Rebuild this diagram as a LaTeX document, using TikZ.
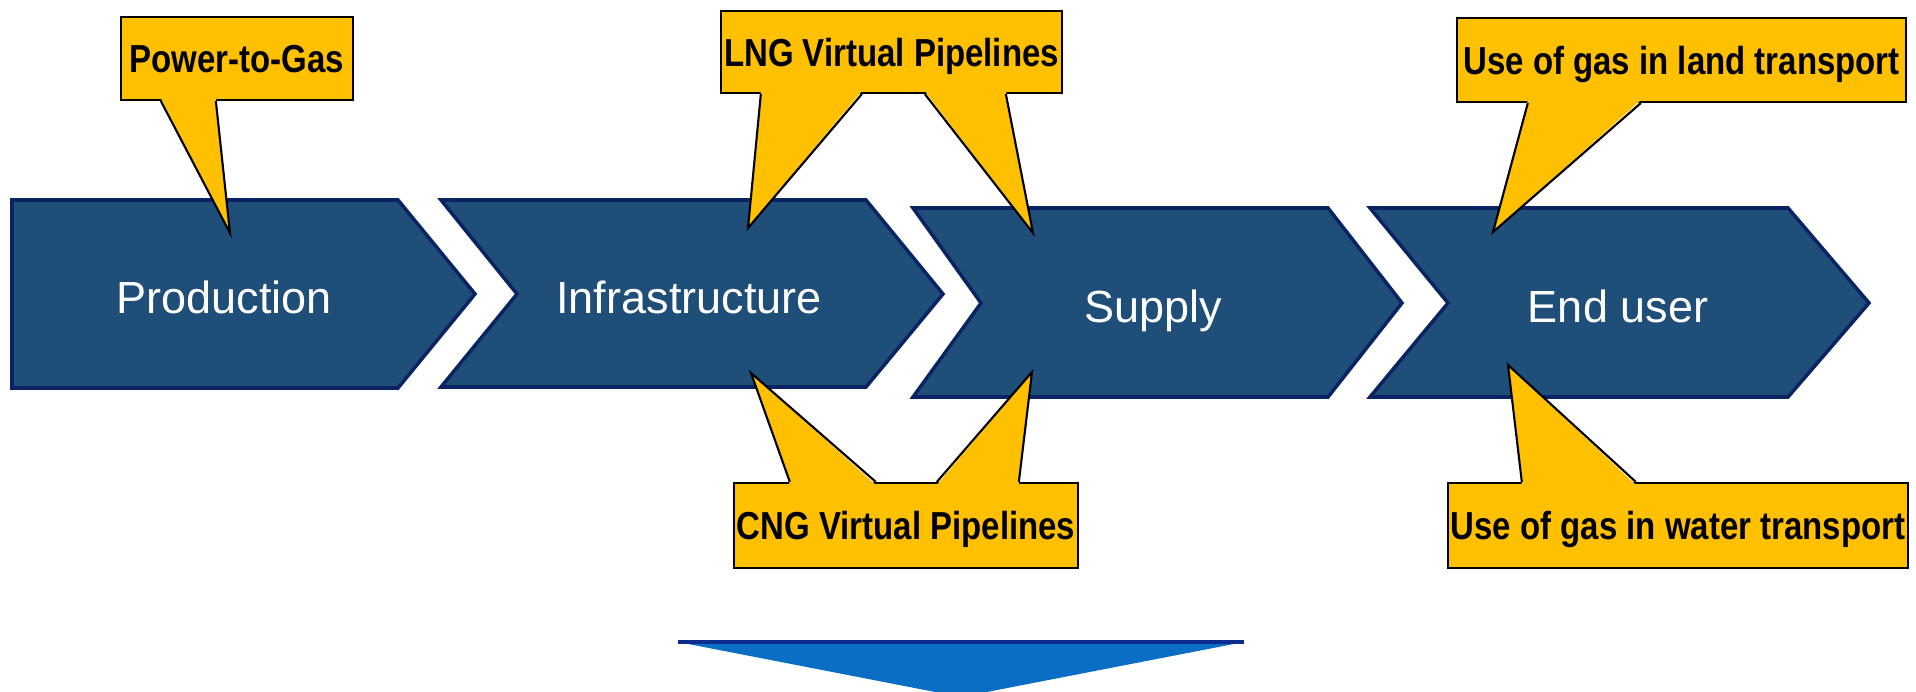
\documentclass[tikz,border=0pt]{standalone}
\usepackage{fontspec}
\setmainfont{Liberation Sans}
\newfontfamily\notefont[FakeStretch=0.845]{Liberation Sans}
\usetikzlibrary{calc}

\definecolor{stageblue}{HTML}{1F4E79}
\definecolor{stageedge}{HTML}{0B2363}
\definecolor{noteyellow}{HTML}{FFC000}
\definecolor{downblue}{HTML}{0A6EC4}
\definecolor{downedge}{HTML}{0A2C8C}

\tikzset{
  stage/.style={fill=stageblue,draw=stageedge,line width=1pt,line join=miter},
  stagelabel/.style={text=white,anchor=base,font=\fontsize{12.8}{15}\selectfont},
  note/.style={fill=noteyellow,draw=black,line width=0.6pt,inner sep=0pt,
    text height=0.28cm,text depth=0pt,font=\notefont\bfseries\fontsize{11.1}{13}\selectfont},
  pointer/.style={draw=black,line width=0.6pt,line join=miter},
}

\begin{document}
\begin{tikzpicture}[x=0.01cm,y=-0.01cm]
  \clip (0,0) rectangle (1916,691);

  % value chain
  \draw[stage] (12,200) -- (398,200) -- (475,294) -- (398,388) -- (12,388) -- cycle;
  \draw[stage] (441,200) -- (866,200) -- (943,294) -- (866,387) -- (441,387) -- (517,294) -- cycle;
  \draw[stage] (913,208) -- (1328,208) -- (1402,303) -- (1328,397) -- (913,397) -- (981,303) -- cycle;
  \draw[stage] (1370,208) -- (1788,208) -- (1869,303) -- (1788,397) -- (1370,397) -- (1448,303) -- cycle;
  \node[stagelabel] (production) at (224,313) {Production};
  \node[stagelabel] (infrastructure) at (689,313) {Infrastructure};
  \node[stagelabel] (supply) at (1153,322) {Supply};
  \node[stagelabel] (enduser) at (1618,322) {End user};

  % callouts above
  \node[note,minimum width=2.32cm,minimum height=0.83cm] (p2g) at (237,58.5) {Power-to-Gas};
  \node[note,minimum width=3.41cm,minimum height=0.82cm] (lng) at (891.5,52) {LNG Virtual Pipelines};
  \node[note,minimum width=4.49cm,minimum height=0.84cm] (land) at (1681.5,60) {Use of gas in land transport};
  \coordinate (p2g tip) at (230,233);
  \coordinate (lng tip a) at (748,228);
  \coordinate (lng tip b) at (1033,233);
  \coordinate (land tip) at (1493,232);

  \fill[noteyellow] ($(p2g.south west)+(41,-3)$) -- (p2g tip) -- ($(p2g.south west)+(96,-3)$) -- cycle;
  \draw[pointer] ($(p2g.south west)+(41,0)$) -- (p2g tip) -- ($(p2g.south west)+(96,0)$);
  \fill[noteyellow] ($(lng.south west)+(41,-3)$) -- (lng tip a) -- ($(lng.south west)+(142,-3)$) -- cycle;
  \draw[pointer] ($(lng.south west)+(41,0)$) -- (lng tip a) -- ($(lng.south west)+(142,0)$);
  \fill[noteyellow] ($(lng.south west)+(205,-3)$) -- (lng tip b) -- ($(lng.south west)+(286,-3)$) -- cycle;
  \draw[pointer] ($(lng.south west)+(205,0)$) -- (lng tip b) -- ($(lng.south west)+(286,0)$);
  \fill[noteyellow] ($(land.south west)+(72,-3)$) -- (land tip) -- ($(land.south west)+(185,-3)$) -- cycle;
  \draw[pointer] ($(land.south west)+(72,0)$) -- (land tip) -- ($(land.south west)+(185,0)$);

  % callouts below
  \node[note,minimum width=3.44cm,minimum height=0.85cm] (cng) at (906,525.5) {CNG Virtual Pipelines};
  \node[note,minimum width=4.60cm,minimum height=0.85cm] (water) at (1678,525.5) {Use of gas in water transport};
  \coordinate (cng tip a) at (751,373);
  \coordinate (cng tip b) at (1032,372);
  \coordinate (water tip) at (1508,365);

  \fill[noteyellow] ($(cng.north west)+(57,3)$) -- (cng tip a) -- ($(cng.north west)+(143,3)$) -- cycle;
  \draw[pointer] ($(cng.north west)+(57,0)$) -- (cng tip a) -- ($(cng.north west)+(143,0)$);
  \fill[noteyellow] ($(cng.north west)+(204,3)$) -- (cng tip b) -- ($(cng.north west)+(286,3)$) -- cycle;
  \draw[pointer] ($(cng.north west)+(204,0)$) -- (cng tip b) -- ($(cng.north west)+(286,0)$);
  \fill[noteyellow] ($(water.north west)+(75,3)$) -- (water tip) -- ($(water.north west)+(189,3)$) -- cycle;
  \draw[pointer] ($(water.north west)+(75,0)$) -- (water tip) -- ($(water.north west)+(189,0)$);

  % down arrow
  \fill[downblue] (678,642) -- (1244,642) -- (961,697) -- cycle;
  \draw[downedge,line width=1.2pt] (678,642) -- (1244,642);
\end{tikzpicture}
\end{document}
